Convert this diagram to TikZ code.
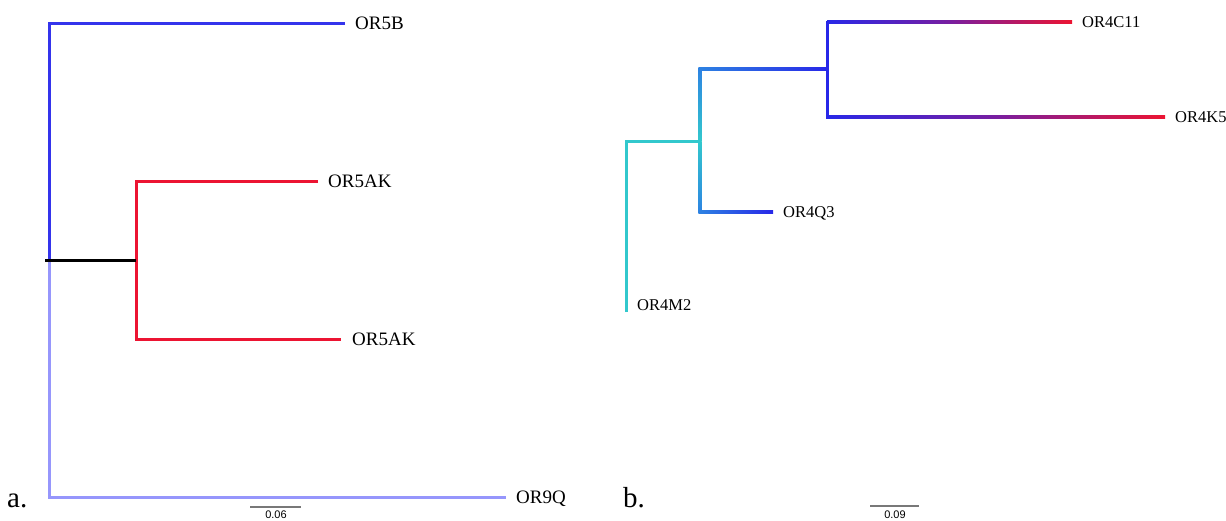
\documentclass[tikz,border=0pt]{standalone}
\usepackage{fontspec}
\setmainfont{Liberation Serif}
\newfontfamily\barfont{Liberation Sans}
\usetikzlibrary{calc}
\definecolor{tblue}{RGB}{52,52,236}
\definecolor{tred}{RGB}{236,20,50}
\definecolor{tlav}{RGB}{150,150,252}
\definecolor{tcyan}{RGB}{50,200,205}
\definecolor{tmid}{RGB}{45,130,226}
\definecolor{rblue}{RGB}{40,40,232}
\definecolor{bargray}{RGB}{120,120,120}
\tikzset{
  branch/.style={line width=3pt},
  leafL/.style={anchor=west, inner sep=0pt, text depth=0pt, font=\fontsize{19}{19}\selectfont},
  leafR/.style={anchor=west, inner sep=0pt, text depth=0pt, font=\fontsize{16.5}{16.5}\selectfont},
  panel/.style={anchor=base west, inner sep=0pt, font=\fontsize{29}{29}\selectfont},
  scalebar/.style={line width=1.2pt, draw=bargray},
  scalelbl/.style={inner sep=0pt, font=\barfont\fontsize{11}{11}\selectfont},
}
\begin{document}
\begin{tikzpicture}[x=1pt,y=-1pt]
\useasboundingbox (0,0) rectangle (1226,520);
% ---------- tree a ----------
\coordinate (rootL) at (49,260);
\coordinate (rootLw) at (45,260);
\coordinate (aTop) at (49,23);
\coordinate (aBot) at (49,497);
\coordinate (l5B) at (345,23);
\coordinate (l9Q) at (506,497);
\coordinate (nRed) at (136,260);
\coordinate (nRedT) at (136,181);
\coordinate (nRedB) at (136,339);
\coordinate (l5AKa) at (318,181);
\coordinate (l5AKb) at (341,339);
\draw[branch, tblue] (rootL) -- (aTop) -- (l5B);
\draw[branch, tlav] (rootL) -- (aBot) -- (l9Q);
\draw[branch, tred] (l5AKa) -- (nRedT) -- (nRedB) -- (l5AKb);
\draw[branch, black] (rootLw) -- (nRed);
\node[leafL] (t5B) at ($(l5B)+(10,0)$) {OR5B};
\node[leafL] (t5AKa) at ($(l5AKa)+(10,0)$) {OR5AK};
\node[leafL] (t5AKb) at ($(l5AKb)+(11,0)$) {OR5AK};
\node[leafL] (t9Q) at ($(l9Q)+(10,0)$) {OR9Q};
\node[panel] (pa) at (7,507) {a.};
\coordinate (sbaL) at (250,507);
\coordinate (sbaR) at (301,507);
\draw[scalebar] (sbaL) -- (sbaR);
\node[scalelbl] (sba) at (276,515) {0.06};
% ---------- tree b ----------
\coordinate (rootR) at (626,141);
\coordinate (m2) at (626,312);
\coordinate (n2) at (700,141);
\coordinate (n2T) at (700,69);
\coordinate (n2B) at (700,212);
\coordinate (q3) at (773,212);
\coordinate (n3) at (827,69);
\coordinate (n3T) at (827,22);
\coordinate (n3B) at (827,117);
\coordinate (c11) at (1072,22);
\coordinate (k5) at (1165,117);
\draw[branch, tcyan] (m2) -- (rootR) -- (n2);
% vertical at n2 (gradients)
\shade[bottom color=tcyan, top color=tmid] ($(n2)+(-1.5,0)$) rectangle ($(n2T)+(1.5,-1.5)$);
\shade[top color=tcyan, bottom color=tmid] ($(n2)+(-1.5,0)$) rectangle ($(n2B)+(1.5,1.5)$);
% horizontals from n2
\shade[left color=tmid, right color=rblue] ($(n2T)+(-1.5,-1.5)$) rectangle ($(n3)+(0,1.5)$);
\shade[left color=tmid, right color=rblue] ($(n2B)+(-1.5,-1.5)$) rectangle ($(q3)+(0,1.5)$);
% vertical at n3
\draw[branch, rblue] ($(n3T)+(0,-1.5)$) -- ($(n3B)+(0,1.5)$);
% horizontals to red leaves
\shade[left color=rblue, right color=tred, middle color={rgb,255:red,120;green,30;blue,160}] ($(n3T)+(0,-1.5)$) rectangle ($(c11)+(0,1.5)$);
\shade[left color=rblue, right color=tred, middle color={rgb,255:red,120;green,30;blue,160}] ($(n3B)+(0,-1.5)$) rectangle ($(k5)+(0,1.5)$);
\node[leafR] (tc11) at ($(c11)+(10,0)$) {OR4C11};
\node[leafR] (tk5) at ($(k5)+(10,0)$) {OR4K5};
\node[leafR] (tq3) at ($(q3)+(10,0)$) {OR4Q3};
\node[leafR] (tm2) at (637,305) {OR4M2};
\node[panel] (pb) at (623,507) {b.};
\coordinate (sbbL) at (870,506);
\coordinate (sbbR) at (919,506);
\draw[scalebar] (sbbL) -- (sbbR);
\node[scalelbl] (sbb) at (895,515) {0.09};
\end{tikzpicture}
\end{document}
